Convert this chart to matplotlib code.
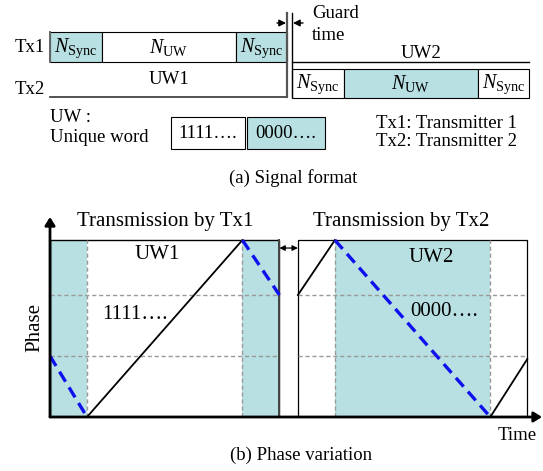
import matplotlib
matplotlib.use("Agg")
import matplotlib.pyplot as plt
from matplotlib.patches import Rectangle
import numpy as np

plt.rcParams['font.family'] = ['Liberation Serif', 'DejaVu Serif']
plt.rcParams['mathtext.fontset'] = 'custom'
plt.rcParams['mathtext.rm'] = 'Liberation Serif'
plt.rcParams['mathtext.it'] = 'Liberation Serif:italic'

teal = '#b8dfe1'
blue = '#1010ee'
grid_c = '#999999'

# (a) signal format - field widths in pixels
fields = ['Sync', 'UW', 'Sync']
field_px = [52, 134, 51]
tx1_start = 50
tx2_start = 292
tx1_fill = [True, False, True]
tx2_fill = [False, True, False]

# (b) phase variation - time in units of one sync field
sync_len = 1.0
uw_len = 4.2
guard_len = 0.5
phase_levels = [0, 1, 2, 2.9]
t1 = np.cumsum([0, sync_len, uw_len, sync_len])
t2 = t1[-1] + guard_len + np.cumsum([0, sync_len, uw_len, sync_len])
# phase segments (t, phase) for Tx1 and Tx2
tx1_black = ([t1[1], t1[2]], [0, 2.9])
tx1_blue = [([t1[0], t1[1]], [1, 0]), ([t1[2], t1[3]], [2.9, 2])]
tx2_black = [([t2[0], t2[1]], [2, 2.9]), ([t2[2], t2[3]], [0, 0.95])]
tx2_blue = ([t2[1], t2[2]], [2.9, 0])

W, H = 543, 471
fig = plt.figure(figsize=(W / 100, H / 100), dpi=100)
ax0 = fig.add_axes([0, 0, 1, 1])
ax0.set_xlim(0, W)
ax0.set_ylim(H, 0)
ax0.axis('off')

fs_top = 13.5


def field_label(ax, x, y, name, size):
    ax.text(x, y, r'$N_{\mathrm{%s}}$' % name, ha='center', va='center',
            fontsize=size)


# Tx1 row
edges1 = tx1_start + np.cumsum([0] + field_px)
for i, name in enumerate(fields):
    ax0.add_patch(Rectangle((edges1[i], 32), field_px[i], 30,
                            facecolor=teal if tx1_fill[i] else 'white',
                            edgecolor='black', lw=0.8))
    field_label(ax0, (edges1[i] + edges1[i + 1]) / 2, 48, name, 14.5)
ax0.plot([edges1[0], edges1[0]], [32, 62], color='#666666', lw=1.4)
ax0.plot([edges1[0], edges1[-1]], [97, 97], color='#333333', lw=1.2)
ax0.plot([edges1[-1], edges1[-1]], [13, 97], color='#555555', lw=1.6)
ax0.text(15, 48, 'Tx1', fontsize=fs_top, va='center')
ax0.text(15, 90, 'Tx2', fontsize=fs_top, va='center')
ax0.text((edges1[0] + edges1[-1]) / 2, 80, 'UW1', fontsize=fs_top,
         ha='center', va='center')

# Tx2 row
edges2 = tx2_start + np.cumsum([0] + field_px)
for i, name in enumerate(fields):
    ax0.add_patch(Rectangle((edges2[i], 69), field_px[i], 29,
                            facecolor=teal if tx2_fill[i] else 'white',
                            edgecolor='black', lw=0.8))
    field_label(ax0, (edges2[i] + edges2[i + 1]) / 2, 84, name, 14.5)
ax0.plot([edges2[0], edges2[-1]], [62, 62], color='black', lw=1.0)
ax0.plot([edges2[0], edges2[0]], [13, 97], color='black', lw=1.0)
ax0.text((edges2[1] + edges2[2]) / 2 + 10, 54, 'UW2', fontsize=fs_top,
         ha='center', va='center')

# guard time arrows
ax0.annotate('', xy=(edges1[-1] - 1, 23), xytext=(277, 23),
             arrowprops=dict(arrowstyle='-|>', color='black', lw=1.0,
                             mutation_scale=10, shrinkA=0, shrinkB=0))
ax0.annotate('', xy=(edges2[0] + 1, 23), xytext=(303, 23),
             arrowprops=dict(arrowstyle='-|>', color='black', lw=1.0,
                             mutation_scale=10, shrinkA=0, shrinkB=0))
ax0.text(312, 14, 'Guard', fontsize=fs_top, va='center')
ax0.text(312, 36, 'time', fontsize=fs_top, va='center')

# unique word legend
ax0.text(50, 117, 'UW :', fontsize=fs_top, va='center')
ax0.text(50, 138, 'Unique word', fontsize=fs_top, va='center')
ax0.add_patch(Rectangle((171, 117), 74, 32, facecolor='white',
                        edgecolor='black', lw=0.8))
ax0.add_patch(Rectangle((247, 117), 78, 32, facecolor=teal,
                        edgecolor='black', lw=0.8))
ax0.text(208, 133, '1111….', fontsize=fs_top, ha='center', va='center')
ax0.text(286, 133, '0000….', fontsize=fs_top, ha='center', va='center')
ax0.text(376, 124, 'Tx1: Transmitter 1', fontsize=fs_top, va='center')
ax0.text(376, 142, 'Tx2: Transmitter 2', fontsize=fs_top, va='center')
ax0.text(293, 178, '(a) Signal format', fontsize=fs_top, ha='center',
         va='center')

# (b) phase variation axes
x0, x1, y0, y1 = 50, 542, 417, 217
ax = fig.add_axes([x0 / W, (H - y0) / H, (x1 - x0) / W, (y0 - y1) / H])
ax.patch.set_alpha(0)
px_per_t = 37.0
px_per_p = 61.0
ax.set_xlim(0, (x1 - x0) / px_per_t)
ax.set_ylim(0, (y0 - y1) / px_per_p)
for s in ax.spines.values():
    s.set_visible(False)
ax.set_xticks([])
ax.set_yticks([])

top = phase_levels[-1]
# teal fields
ax.add_patch(Rectangle((t1[0], 0), sync_len, top, facecolor=teal, lw=0))
ax.add_patch(Rectangle((t1[2], 0), sync_len, top, facecolor=teal, lw=0))
ax.add_patch(Rectangle((t2[1], 0), uw_len, top, facecolor=teal, lw=0))

# dashed grid
for t in (t1, t2):
    for lv in phase_levels[1:3]:
        ax.plot([t[0], t[-1]], [lv, lv], color=grid_c, ls=(0, (3, 2)), lw=1)
    for tv in t[1:3]:
        ax.plot([tv, tv], [0, top], color=grid_c, ls=(0, (3, 2)), lw=1)

# frames
ax.add_patch(Rectangle((t1[0], 0), t1[-1] - t1[0], top, fill=False,
                       edgecolor='black', lw=1.0))
ax.plot([t1[-1], t1[-1]], [0, top], color='#444444', lw=1.4)
ax.add_patch(Rectangle((t2[0], 0), t2[-1] - t2[0], top, fill=False,
                       edgecolor='black', lw=0.9))

# phase lines
ax.plot(*tx1_black, color='black', lw=1.3)
for seg in tx2_black:
    ax.plot(*seg, color='black', lw=1.3)
for seg in tx1_blue + [tx2_blue]:
    ax.plot(*seg, color=blue, lw=2.4, ls=(0, (3.5, 2)))

# guard double arrow
ax.annotate('', xy=(t2[0], 2.77), xytext=(t1[-1], 2.77),
            arrowprops=dict(arrowstyle='<|-|>', color='black', lw=0.9,
                            mutation_scale=8, shrinkA=0, shrinkB=0))

# axes with arrows
ax.annotate('', xy=(0, 1.0), xytext=(0, 0), xycoords='axes fraction',
            arrowprops=dict(arrowstyle='-|>,head_width=0.25', color='black',
                            lw=2, mutation_scale=12, shrinkA=0, shrinkB=0))
ax.annotate('', xy=(1.0, 0), xytext=(0, 0), xycoords='axes fraction',
            arrowprops=dict(arrowstyle='-|>,head_width=0.25', color='black',
                            lw=2, mutation_scale=12, shrinkA=0, shrinkB=0))

fs_b = 15
ax.text((t1[0] + t1[-1]) / 2, 3.2, 'Transmission by Tx1', fontsize=fs_b,
        ha='center', va='center')
ax.text((t2[0] + t2[-1]) / 2 - 0.3, 3.2, 'Transmission by Tx2',
        fontsize=fs_b, ha='center', va='center')
ax.text(2.9, 2.67, 'UW1', fontsize=fs_b, ha='center', va='center')
ax.text(10.3, 2.62, 'UW2', fontsize=fs_b, ha='center', va='center')
ax.text(1.4, 1.68, '1111….', fontsize=fs_b, va='center')
ax.text(9.73, 1.73, '0000….', fontsize=fs_b, va='center')

ax0.text(35, 327, 'Phase', fontsize=fs_b, rotation=90, ha='center',
         va='center')
ax0.text(517, 436, 'Time', fontsize=fs_top, ha='center', va='center')
ax0.text(301, 455, '(b) Phase variation', fontsize=fs_top, ha='center',
         va='center')

fig.savefig('out.png', dpi=100)
